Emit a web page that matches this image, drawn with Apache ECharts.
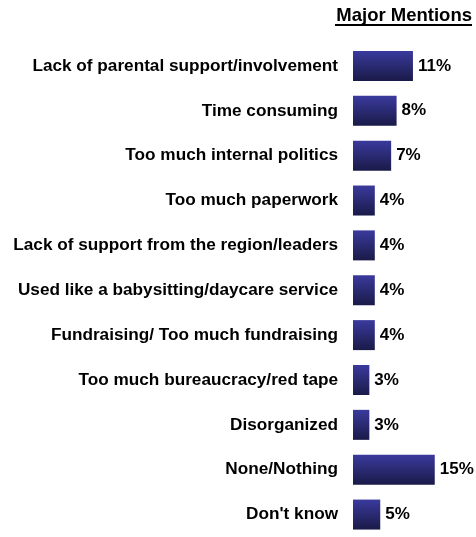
<!DOCTYPE html>
<html>
<head>
<meta charset="utf-8">
<script src="https://cdn.jsdelivr.net/npm/echarts@6/dist/echarts.min.js"></script>
<style>
  html, body { margin: 0; padding: 0; background: #fff; }
  #chart { width: 476px; height: 537px; }
</style>
</head>
<body>
<div id="chart"></div>
<script>
// Reasons mentioned, top to bottom
const categories = [
  'Lack of parental support/involvement',
  'Time consuming',
  'Too much internal politics',
  'Too much paperwork',
  'Lack of support from the region/leaders',
  'Used like a babysitting/daycare service',
  'Fundraising/ Too much fundraising',
  'Too much bureaucracy/red tape',
  'Disorganized',
  'None/Nothing',
  "Don't know"
];
// Share of major mentions, percent
const mentions = [11, 8, 7, 4, 4, 4, 4, 3, 3, 15, 5];
const headerText = 'Major Mentions';

const FONT = '"Liberation Sans", Arial, Helvetica, sans-serif';

const chart = echarts.init(document.getElementById('chart'), null, { renderer: 'canvas' });

chart.setOption({
  animation: false,
  backgroundColor: '#ffffff',
  graphic: [
    {
      type: 'text',
      right: 4,
      top: 6,
      style: {
        text: headerText,
        font: 'bold 18.5px ' + FONT,
        fill: '#000'
      }
    },
    {
      type: 'rect',
      right: 4,
      top: 24,
      shape: { width: 137, height: 2 },
      style: { fill: '#000' }
    }
  ],
  grid: {
    left: 353,
    top: 43.5,
    width: 109,
    height: 502.7,
    containLabel: false
  },
  xAxis: {
    type: 'value',
    min: 0,
    max: 20,
    show: false
  },
  yAxis: {
    type: 'category',
    data: categories,
    inverse: true,
    axisLine: { show: false },
    axisTick: { show: false },
    splitLine: { show: false },
    axisLabel: {
      margin: 15,
      padding: [3, 0, 0, 0],
      color: '#000',
      fontFamily: FONT,
      fontWeight: 'bold',
      fontSize: 17.2
    }
  },
  series: [
    {
      type: 'bar',
      data: mentions,
      barWidth: 30,
      itemStyle: {
        color: new echarts.graphic.LinearGradient(0, 0, 0, 1, [
          { offset: 0, color: '#3a3a9e' },
          { offset: 1, color: '#1a1a48' }
        ])
      },
      label: {
        show: true,
        position: 'right',
        distance: 5,
        padding: [3, 0, 0, 0],
        formatter: '{c}%',
        color: '#000',
        fontFamily: FONT,
        fontWeight: 'bold',
        fontSize: 17
      }
    }
  ]
});
</script>
</body>
</html>
